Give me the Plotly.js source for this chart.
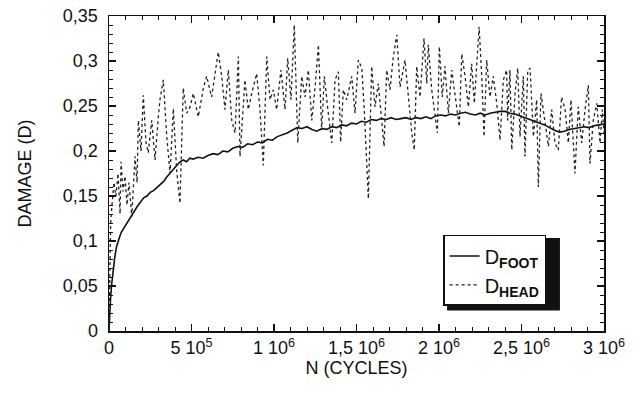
<!DOCTYPE html>
<html><head><meta charset="utf-8">
<script src="https://cdn.plot.ly/plotly-3.0.1.min.js"></script>
<style>html,body{margin:0;padding:0;background:#fff}#chart{width:640px;height:394px}</style>
</head><body><div id="chart"></div>
<script>
// D_FOOT (solid) – cycles and damage
const footN = [0,4000,9000,15000,25000,35000,45000,55000,65000,75000,85000,100000,115000,130000,150000,170000,190000,210000,230000,250000,270000,290000,310000,330000,350000,370000,390000,410000,430000,450000,470000,490000,510000,540000,570000,600000,630000,660000,690000,720000,750000,780000,810000,840000,870000,900000,930000,960000,990000,1020000,1050000,1080000,1110000,1140000,1170000,1200000,1230000,1260000,1290000,1320000,1350000,1380000,1410000,1440000,1470000,1500000,1530000,1560000,1590000,1620000,1650000,1680000,1710000,1740000,1770000,1800000,1830000,1860000,1890000,1920000,1950000,1980000,2010000,2040000,2070000,2100000,2130000,2160000,2190000,2220000,2250000,2280000,2310000,2340000,2370000,2400000,2430000,2460000,2490000,2520000,2550000,2580000,2610000,2640000,2670000,2700000,2730000,2760000,2790000,2820000,2850000,2880000,2910000,2940000,2970000,3000000];
const footD = [0,0.02,0.035,0.05,0.07,0.082,0.093,0.1,0.105,0.11,0.113,0.118,0.121,0.127,0.133,0.138,0.143,0.148,0.15,0.154,0.156,0.159,0.163,0.166,0.171,0.175,0.18,0.184,0.188,0.19,0.188,0.192,0.191,0.193,0.192,0.195,0.197,0.196,0.2,0.199,0.203,0.205,0.204,0.208,0.207,0.21,0.209,0.213,0.212,0.216,0.218,0.22,0.223,0.226,0.225,0.227,0.224,0.222,0.225,0.224,0.227,0.226,0.229,0.228,0.231,0.23,0.233,0.232,0.235,0.234,0.236,0.235,0.237,0.235,0.236,0.237,0.235,0.237,0.236,0.238,0.236,0.239,0.24,0.239,0.241,0.24,0.242,0.243,0.241,0.24,0.242,0.24,0.242,0.243,0.244,0.244,0.242,0.241,0.239,0.237,0.235,0.233,0.231,0.229,0.226,0.223,0.221,0.222,0.224,0.225,0.226,0.227,0.226,0.228,0.229,0.23];

// D_HEAD (dotted) – cycles and damage
const headN = [0,5000,10000,18000,30000,42000,55000,67000,73000,85000,97000,109000,121000,138000,158000,170000,178000,194000,208000,224000,238000,259000,279000,299000,309000,329000,350000,370000,390000,410000,430000,450000,471000,491000,511000,541000,552000,572000,592000,622000,662000,683000,703000,723000,744000,764000,784000,794000,824000,844000,865000,895000,915000,935000,956000,976000,996000,1016000,1042000,1067000,1083000,1103000,1123000,1144000,1168000,1188000,1208000,1229000,1249000,1269000,1289000,1305000,1329000,1350000,1370000,1390000,1404000,1420000,1441000,1471000,1491000,1511000,1532000,1547000,1572000,1592000,1612000,1632000,1667000,1683000,1703000,1723000,1744000,1764000,1794000,1814000,1835000,1850000,1865000,1885000,1909000,1926000,1935000,1956000,1976000,1990000,2002000,2020000,2036000,2057000,2077000,2097000,2123000,2138000,2158000,2178000,2198000,2214000,2229000,2243000,2259000,2273000,2289000,2309000,2329000,2350000,2370000,2390000,2410000,2416000,2430000,2441000,2461000,2477000,2491000,2511000,2521000,2538000,2552000,2572000,2592000,2602000,2618000,2643000,2663000,2683000,2703000,2723000,2743000,2764000,2784000,2800000,2824000,2844000,2865000,2885000,2905000,2915000,2935000,2956000,2976000,2990000,3000000];
const headD = [0,0.08,0.12,0.14,0.165,0.15,0.175,0.13,0.188,0.155,0.172,0.14,0.165,0.127,0.194,0.165,0.234,0.2,0.262,0.21,0.198,0.234,0.19,0.238,0.257,0.279,0.216,0.175,0.247,0.179,0.142,0.27,0.242,0.249,0.264,0.238,0.249,0.27,0.283,0.26,0.31,0.283,0.246,0.29,0.234,0.22,0.305,0.194,0.279,0.246,0.264,0.286,0.246,0.184,0.305,0.257,0.268,0.246,0.29,0.246,0.303,0.257,0.34,0.209,0.283,0.26,0.29,0.234,0.271,0.318,0.223,0.283,0.242,0.209,0.279,0.288,0.21,0.268,0.257,0.283,0.242,0.301,0.292,0.246,0.147,0.294,0.249,0.275,0.205,0.29,0.268,0.305,0.329,0.271,0.301,0.26,0.22,0.201,0.294,0.26,0.325,0.275,0.318,0.268,0.238,0.22,0.316,0.26,0.294,0.242,0.29,0.264,0.227,0.308,0.283,0.249,0.297,0.253,0.301,0.338,0.283,0.216,0.301,0.26,0.283,0.253,0.212,0.279,0.29,0.234,0.29,0.201,0.264,0.292,0.216,0.283,0.194,0.29,0.292,0.216,0.257,0.16,0.264,0.234,0.205,0.246,0.209,0.201,0.26,0.246,0.209,0.257,0.175,0.249,0.209,0.246,0.273,0.186,0.234,0.253,0.209,0.246,0.22];

const xTickVals = [0,500000,1000000,1500000,2000000,2500000,3000000];
const xTickText = ['0','5 10<sup>5</sup>','1 10<sup>6</sup>','1,5 10<sup>6</sup>','2 10<sup>6</sup>','2,5 10<sup>6</sup>','3 10<sup>6</sup>'];
const yTickVals = [0,0.05,0.1,0.15,0.2,0.25,0.3,0.35];
const yTickText = ['0','0,05','0,1','0,15','0,2','0,25','0,3','0,35'];

const font = {family:'Liberation Sans, Arial, sans-serif', size:18, color:'#111'};

const traces = [
  {x:footN, y:footD, mode:'lines', name:'D<sub><b>FOOT</b></sub>', line:{color:'#111', width:1.6}},
  {x:headN, y:headD, mode:'lines', name:'D<sub><b>HEAD</b></sub>', line:{color:'#222', width:1.3, dash:'dot'}}
];

const axisCommon = {
  showline:true, mirror:'allticks', linecolor:'#111', linewidth:1.5,
  ticks:'inside', ticklen:7, tickwidth:1.2, tickcolor:'#111',
  showgrid:false, zeroline:false, tickfont:font
};

const layout = {
  width:640, height:394,
  margin:{l:109, r:36, t:16, b:63},
  paper_bgcolor:'#fff', plot_bgcolor:'#fff',
  font:font,
  showlegend:true,
  legend:{x:0.675, y:0.305, xanchor:'left', yanchor:'top', bgcolor:'#fff',
    bordercolor:'#111', borderwidth:1.5, font:{family:font.family, size:20, color:'#111'},
    tracegroupgap:0},
  xaxis:Object.assign({}, axisCommon, {
    range:[0,3000000], tickmode:'array', tickvals:xTickVals, ticktext:xTickText,
    minor:{dtick:100000, ticks:'inside', ticklen:4, tickcolor:'#111', tickwidth:1},
    title:{text:'N (CYCLES)', font:font, standoff:4}
  }),
  yaxis:Object.assign({}, axisCommon, {
    range:[0,0.35], tickmode:'array', tickvals:yTickVals, ticktext:yTickText,
    minor:{dtick:0.01, ticks:'inside', ticklen:4, tickcolor:'#111', tickwidth:1},
    ticklabelstandoff:6,
    title:{text:'DAMAGE (D)', font:font, standoff:26}
  }),
  shapes:[{type:'rect', xref:'paper', yref:'paper', x0:0.683, x1:0.911, y0:0.065, y1:0.295,
    fillcolor:'#111', line:{width:0}, layer:'above'}]
};

Plotly.newPlot('chart', traces, layout, {displayModeBar:false, staticPlot:true});
</script></body></html>
